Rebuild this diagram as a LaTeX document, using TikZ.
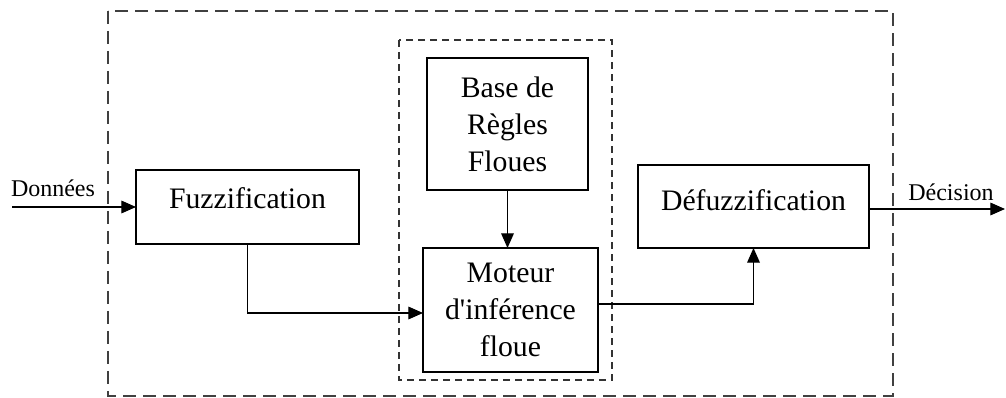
\documentclass[tikz,border=0pt]{standalone}
\usepackage{fontspec}
\setmainfont{Liberation Serif}
\usetikzlibrary{arrows.meta,positioning}
\tikzset{
	bloc/.style={
			draw, line width=0.9pt, inner sep=0pt, outer sep=0pt, align=center,
			font=\fontsize{22.3}{27.7}\selectfont},
	lbl/.style={font=\fontsize{18}{22}\selectfont, inner sep=0pt},
	fleche/.style={line width=0.9pt, -{Triangle[length=11pt,width=9.5pt]}},
	cadre/.style={line width=1.3pt, dash pattern=on 10pt off 5pt, black!75},
	souscadre/.style={line width=1.1pt, dash pattern=on 5pt off 4pt, black!80}
}
\begin{document}
\begin{tikzpicture}[x=0.75pt,y=-0.75pt]
        \useasboundingbox (0,0) rectangle (1006,398);

        % Dashed frames
        \draw[cadre] (108,11) rectangle (893,396);
        \draw[souscadre] (399,40) rectangle (612,380);

        % Blocks
        \node[bloc, minimum width=167.25pt, minimum height=55.5pt] (fuzz) at (247.5,207) {\raisebox{13pt}{Fuzzification}};
        \node[bloc, minimum width=120.75pt, minimum height=99pt] (base) at (507.5,124) {Base de\\Règles\\Floues};
        \node[bloc, minimum width=131.25pt, minimum height=93pt] (mot) at (510.5,310) {Moteur\\d\textquotesingle inférence\\floue};
        \node[bloc, minimum width=173.25pt, minimum height=62.25pt] (defuzz) at (753.5,206.5) {\raisebox{10pt}{Défuzzification}};

        % Input / output
        \coordinate (in) at (12,207);
        \coordinate (out) at (1005,209);
        \node[lbl] (donnees) at (53,188) {Données};
        \node[lbl] (decision) at (951,192) {Décision};

        % Connectors
        \draw[fleche] (in) -- (fuzz.west);
        \draw[fleche] (fuzz.south) |- ([yshift=-2.25pt]mot.west);
        \draw[fleche] (base.south) -- (base.south |- mot.north);
        \draw[fleche] ([yshift=4.5pt]mot.east) -| (defuzz.south);
        \draw[fleche] (defuzz.east |- out) -- (out);
    \end{tikzpicture}
\end{document}
